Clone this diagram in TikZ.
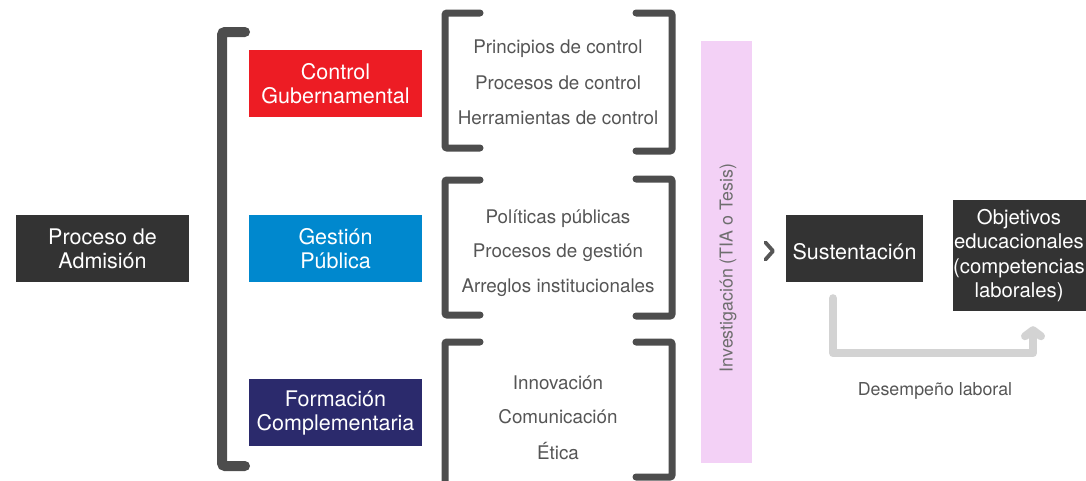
\documentclass[tikz,border=0pt]{standalone}
\usepackage{fontspec}
\setmainfont{TeX Gyre Heros}
\usetikzlibrary{arrows.meta}
\definecolor{cdark}{HTML}{333333}
\definecolor{cred}{HTML}{ED1C24}
\definecolor{cblue}{HTML}{0088CE}
\definecolor{cnavy}{HTML}{2B2A6C}
\definecolor{cbrack}{HTML}{4D4D4D}
\definecolor{cpink}{HTML}{F3D1F6}
\definecolor{carrow}{HTML}{D3D3D3}
\definecolor{ctext}{HTML}{555555}
\tikzset{
  box/.style={rectangle, inner sep=0pt, text=white, align=center,
    font=\fontsize{21.5}{24}\selectfont},
  listtxt/.style={text=ctext, font=\fontsize{18.8}{22}\selectfont, inner sep=0pt},
  smalltxt/.style={text=ctext, font=\fontsize{17.8}{20}\selectfont, inner sep=0pt},
  bigbrack/.style={draw=cbrack, line width=10pt, line cap=round, rounded corners=3pt},
  smallbrack/.style={draw=cbrack, line width=7pt, line cap=round, rounded corners=2pt},
}
\begin{document}
\begin{tikzpicture}[x=1pt,y=-1pt]
\useasboundingbox (0,0) rectangle (1086,480);
% left box
\node[box, fill=cdark, minimum width=173pt, minimum height=67pt] (adm) at (102.5,248.5) {Proceso de\\Admisión};
% big bracket
\draw[bigbrack] (245,32) -- (222,32) -- (222,466) -- (245,466);
% coloured boxes
\node[box, fill=cred, minimum width=173pt, minimum height=67pt] (cg) at (335.5,83.5) {Control\\Gubernamental};
\node[box, fill=cblue, minimum width=173pt, minimum height=67pt] (gp) at (335.5,248.5) {Gestión\\Pública};
\node[box, fill=cnavy, minimum width=173pt, minimum height=67pt] (fc) at (335.5,412.5) {Formación\\Complementaria};
% small brackets
\draw[smallbrack] (480,13) -- (445,13) -- (445,148) -- (480,148);
\draw[smallbrack] (636,13) -- (672,13) -- (672,151) -- (636,151);
\draw[smallbrack] (480,180) -- (445,180) -- (445,315) -- (480,315);
\draw[smallbrack] (636,179) -- (672,179) -- (672,316) -- (636,316);
\draw[smallbrack] (480,342) -- (445,342) -- (445,490);
\draw[smallbrack] (636,342) -- (672,342) -- (672,477) -- (636,477);
% list texts
\node[listtxt] (t1) at (558,48.5) {Principios de control};
\node[listtxt] (t2) at (558,82.5) {Procesos de control};
\node[listtxt] (t3) at (558,117.5) {Herramientas de control};
\node[listtxt] (t4) at (558,218.5) {Políticas públicas};
\node[listtxt] (t5) at (558,252.5) {Procesos de gestión};
\node[listtxt] (t6) at (558,287.5) {Arreglos institucionales};
\node[listtxt] (t7) at (558,382.5) {Innovación};
\node[listtxt] (t8) at (558,416.5) {Comunicación};
\node[listtxt] (t9) at (558,451.5) {Ética};
% pink bar
\node[rectangle, fill=cpink, minimum width=51pt, minimum height=422pt, inner sep=0pt] (inv) at (726.5,252) {};
\node[smalltxt, text=ctext!85, rotate=90] (invt) at (728,268) {Investigación (TIA o Tesis)};
% chevron
\draw[draw=cbrack!95, line width=3.8pt, line cap=round, line join=round] (765.5,242.5) -- (773,251) -- (765.5,259.5);
% right boxes
\node[box, fill=cdark, minimum width=137pt, minimum height=67pt] (sust) at (854.5,248.5) {};
\node[box] (sustt) at (854.5,251.5) {Sustentación};
\node[box, fill=cdark, minimum width=137pt, minimum height=111pt] (obj) at (1021.5,255.5) {};
\node[box, font=\fontsize{20.3}{24.5}\selectfont] (objt) at (1019,255.5) {Objetivos\\educacionales\\(competencias\\laborales)};
% gray connector
\draw[draw=carrow, line width=8pt, line cap=round, line join=round, -{Straight Barb[length=6pt,width=16pt,round]}]
  ([xshift=-21.5pt,yshift=-16pt]sust.south) |- ++(100,55) -| ([xshift=11.5pt,yshift=-15pt]obj.south);
\node[smalltxt] (des) at (935,391) {Desempeño laboral};
\end{tikzpicture}
\end{document}
